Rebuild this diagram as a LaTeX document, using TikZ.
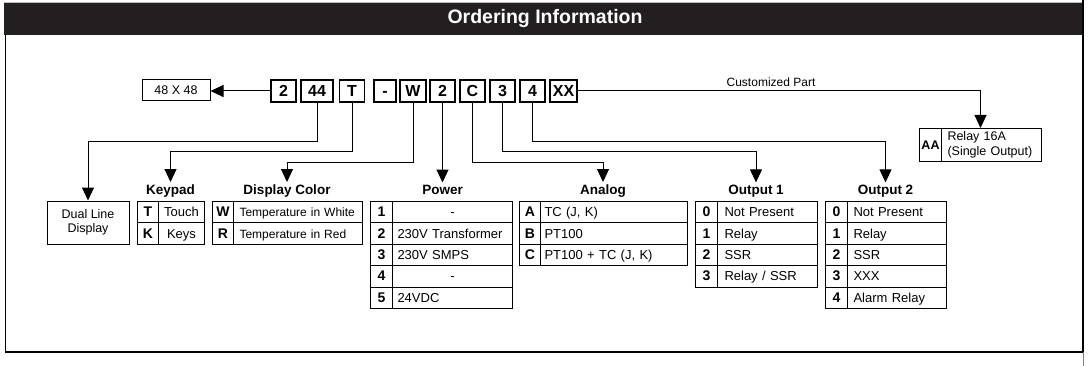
\documentclass[tikz,border=0pt]{standalone}
\usepackage{fontspec}
\setmainfont{Liberation Sans}
\usetikzlibrary{arrows.meta}
\definecolor{barblack}{HTML}{231F20}

% one option table: #1 name, #2 x, #3 y, #4 key width, #5 value width,
% #6 value padding, #7 extra value style, #8 list of key/value pairs
\newcommand\opttable[8]{%
  \pgfmathsetmacro\opttw{#5-2*#6}%
  \foreach \k/\v [count=\i] in {#8} {
    \pgfmathsetmacro\optyy{#3+(\i-1)*21.4}
    \node[keycell, minimum width=#4pt] (#1k\i) at (#2,\optyy) {\k};
    \node[valcell, text width=\opttw pt, inner xsep=#6pt, #7] (#1v\i) at (#2+#4,\optyy) {\v};
  }%
}

\begin{document}
\begin{tikzpicture}[x=1pt,y=-1pt,
  codebox/.style={draw, line width=1.1pt, minimum height=22pt, inner sep=0pt,
    text height=11.6pt, text depth=0pt,
    font=\fontsize{16}{18}\selectfont\bfseries},
  plainbox/.style={draw, line width=1pt, inner sep=0pt, align=center,
    font=\fontsize{12.5}{14.5}\selectfont},
  keycell/.style={draw, line width=1pt, anchor=north west, inner sep=0pt,
    minimum height=21.4pt, text height=11pt, text depth=2pt,
    font=\fontsize{14}{15}\selectfont\bfseries},
  valcell/.style={draw, line width=1pt, anchor=north west, inner ysep=0pt,
    minimum height=21.4pt, text height=11pt, text depth=2pt, align=left,
    font=\fontsize{13}{15}\selectfont},
  grouptitle/.style={anchor=base, inner sep=2pt,
    font=\fontsize{13.5}{15}\selectfont\bfseries},
  conn/.style={line width=1pt},
  arr/.style={conn, -{Triangle[length=13pt,width=12pt]}}]

\useasboundingbox (0,0) rectangle (1091,366);

% frame and title bar
\draw[gray!50, line width=1pt] (4,2.5) -- (1083,2.5);
\fill[barblack] (4,3) rectangle (1083,35);
\node[text=white, font=\fontsize{19.5}{22}\selectfont\bfseries] (title) at (545,19) {Ordering Information};
\draw[line width=1.2pt] (5.5,35) -- (5.5,352) -- (1083,352);
\draw[line width=2pt] (1083,0) -- (1083,352);
\draw[gray, line width=1pt] (1083,352) -- (1083,366);

% code boxes
\node[codebox, minimum width=25pt] (b1)   at (283.5,91) {2};
\node[codebox, minimum width=32pt] (b44)  at (317,91)   {44};
\node[codebox, minimum width=25pt] (bT)   at (352,91)   {T};
\node[codebox, minimum width=22pt] (bdash) at (385,91)  {-};
\node[codebox, minimum width=26pt] (bW)   at (413,91)   {W};
\node[codebox, minimum width=25pt] (b2b)  at (442.5,91) {2};
\node[codebox, minimum width=25pt] (bC)   at (472.5,91) {C};
\node[codebox, minimum width=25pt] (b3)   at (502.5,91) {3};
\node[codebox, minimum width=25pt] (b4)   at (532.5,91) {4};
\node[codebox, minimum width=27pt] (bXX)  at (563.5,91) {XX};

% size box and display box
\node[plainbox, minimum width=68pt, minimum height=21pt] (size) at (176,90) {48 X 48};
\node[plainbox, minimum width=82pt, minimum height=43pt] (dual) at (88,222.5) {Dual Line\\Display};

% group titles
\node[grouptitle] (kp) at (170.5,194) {Keypad};
\node[grouptitle] (dc) at (287,194)   {Display Color};
\node[grouptitle] (pw) at (442.5,194) {Power};
\node[grouptitle] (an) at (603,194)   {Analog};
\node[grouptitle] (o1) at (756,194)   {Output 1};
\node[grouptitle] (o2) at (885.5,194) {Output 2};

% option tables
\opttable{kp}{137}{201}{21}{46}{2}{align=center}{T/Touch, K/Keys}
\opttable{dc}{212}{201}{21}{129}{6}{font=\fontsize{12}{14}\selectfont}{W/Temperature in White, R/Temperature in Red}
\opttable{pw}{370}{201}{22}{120}{5}{}{1/{\makebox[\linewidth]{-}}, 2/230V Transformer, 3/230V SMPS, 4/{\makebox[\linewidth]{-}}, 5/24VDC}
\opttable{an}{519}{201}{21}{147}{4}{}{A/{TC (J, K)}, B/PT100, C/{PT100 + TC (J, K)}}
\opttable{oa}{695}{201}{22}{100}{7}{}{0/Not Present, 1/Relay, 2/SSR, 3/{Relay / SSR}}
\opttable{ob}{825}{201}{22}{99}{6}{}{0/Not Present, 1/Relay, 2/SSR, 3/XXX, 4/Alarm Relay}

% customized part
\node[keycell, minimum width=22pt, minimum height=33pt, text height=9pt, text depth=0pt,
  font=\fontsize{12.5}{14}\selectfont\bfseries] (aak) at (919,128) {AA};
\node[draw, line width=1pt, anchor=north west, minimum width=100pt, minimum height=33pt,
  inner xsep=6pt, inner ysep=0pt, align=left, text width=88pt,
  font=\fontsize{12.5}{14.5}\selectfont] (aav) at (941,128) {Relay 16A\\(Single Output)};
\node[anchor=base, inner sep=0pt, font=\fontsize{12}{14}\selectfont] (cust) at (771,86.5) {Customized Part};

% connectors
\draw[arr] (b1.west) -- (b1.west -| size.east);
\draw[arr] (b44.south) -- (b44.south |- 0,142) -| (dual.north);
\draw[arr] (bT.south) -- (bT.south |- 0,152) -| (kp.north);
\draw[arr] (bW.south) -- (bW.south |- 0,163) -| (dc.north);
\draw[arr] (b2b.south) -- (b2b.south |- pw.north);
\draw[arr] (bC.south) -- (bC.south |- 0,163) -| (an.north);
\draw[arr] (b3.south) -- (b3.south |- 0,152) -| (o1.north);
\draw[arr] (b4.south) -- (b4.south |- 0,142) -| (o2.north);
\draw[arr] (bXX.east) -| ([xshift=-11pt]aav.north);
\end{tikzpicture}
\end{document}
